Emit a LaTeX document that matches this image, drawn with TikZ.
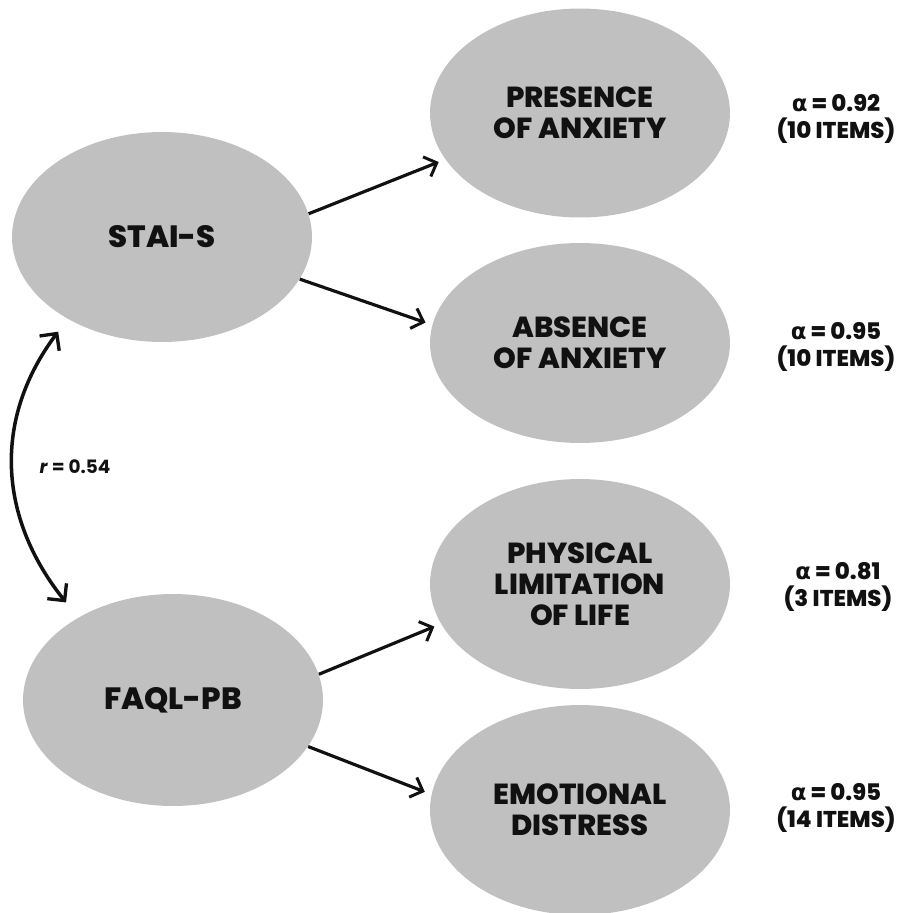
\documentclass[tikz,border=0pt]{standalone}
\usepackage{fontspec}
\setmainfont{Poppins}
\newfontfamily\heavyfont{Poppins ExtraBold}
\newfontfamily\alphafont{DejaVu Sans}
\usepackage{tikz}
\usetikzlibrary{arrows.meta, positioning, shapes.geometric}
\definecolor{latentgray}{HTML}{C0C0C0}
\definecolor{inkblack}{HTML}{111111}

\begin{document}
\begin{tikzpicture}[
    x=0.02cm, y=-0.02cm,
    construct/.style={ellipse, fill=latentgray, inner sep=0pt, minimum width=6cm, minimum height=4.2cm,
        text=inkblack, align=center, font=\fontsize{16.5}{17.5}\selectfont\heavyfont},
    factor/.style={construct, font=\fontsize{17.5}{19}\selectfont\heavyfont},
    reliab/.style={align=center, text=inkblack, font=\fontsize{13}{15.5}\selectfont\heavyfont},
    load/.style={-{Straight Barb[length=6pt, width=12pt, line width=1.7pt]}, line width=1.8pt, inkblack, shorten >=4pt},
    corr/.style={{Straight Barb[length=7pt, width=14pt, line width=1.9pt]}-{Straight Barb[length=7pt, width=14pt, line width=1.9pt]},
        line width=2pt, inkblack},
]
    \useasboundingbox (0,0) rectangle (910,913);

    % left constructs
    \node[factor] (stai) at (162,237) {STAI-S};
    \node[factor, minimum height=4.24cm] (faql) at (173,700) {FAQL-PB};

    % right subscales
    \node[construct, minimum height=4.18cm] (presence) at (580,113) {PRESENCE\\OF ANXIETY};
    \node[construct, minimum height=4cm] (absence) at (580,343) {ABSENCE\\OF ANXIETY};
    \node[construct] (physical) at (580,584) {PHYSICAL\\LIMITATION\\OF LIFE};
    \node[construct] (emotional) at (580,810) {EMOTIONAL\\DISTRESS};

    % reliabilities
    \node[reliab] (alphapres) at (836,119) {{\alphafont\bfseries α} = 0.92\\(10 ITEMS)};
    \node[reliab] (alphaabs) at (836,347) {{\alphafont\bfseries α} = 0.95\\(10 ITEMS)};
    \node[reliab] (alphaphys) at (838,587) {{\alphafont\bfseries α} = 0.81\\(3 ITEMS)};
    \node[reliab] (alphaemo) at (836,808) {{\alphafont\bfseries α} = 0.95\\(14 ITEMS)};

    % loadings
    \draw[load] (stai.9) -- (presence.199);
    \draw[load] (stai.343) -- (absence.173);
    \draw[load] (faql.10) -- (physical.196);
    \draw[load] (faql.341) -- (emotional.174);

    % correlation
    \draw[corr, shorten <=9pt, shorten >=11pt]
        (stai.221) .. controls +(-75,100) and +(-80,-100) .. (faql.139);
    \node[text=inkblack, font=\fontsize{10.5}{12}\selectfont\bfseries] (rval) at (75,467) {\textit{r} = 0.54};
\end{tikzpicture}
\end{document}
